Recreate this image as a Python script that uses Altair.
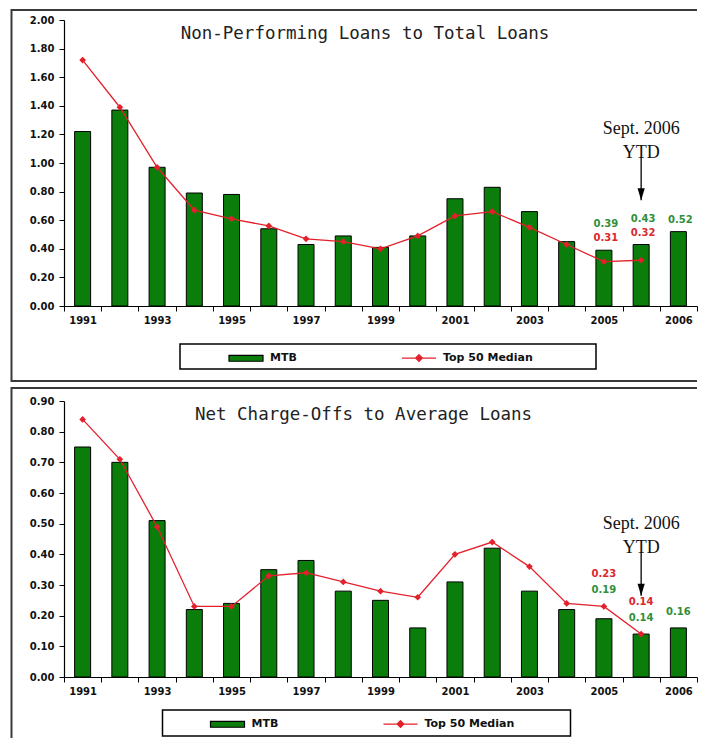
import json
import altair as alt
import pandas as pd

# ---------------- data ----------------
periods = [str(y) for y in range(1991, 2006)] + ["Sept. 2006 YTD", "2006"]
shown_labels = ["1991", "1993", "1995", "1997", "1999", "2001", "2003", "2005", "2006"]
series_names = ["MTB", "Top 50 Median"]

npl_title = "Non-Performing Loans to Total Loans"
npl_mtb = [1.22, 1.37, 0.97, 0.79, 0.78, 0.54, 0.43, 0.49, 0.41, 0.49, 0.75, 0.83, 0.66, 0.45, 0.39, 0.43, 0.52]
npl_median = [1.72, 1.39, 0.97, 0.67, 0.61, 0.56, 0.47, 0.45, 0.40, 0.49, 0.63, 0.66, 0.55, 0.43, 0.31, 0.32, None]
npl_ticks = [0.0, 0.2, 0.4, 0.6, 0.8, 1.0, 1.2, 1.4, 1.6, 1.8, 2.0]
npl_callouts = [("2005", "MTB", 2), ("2005", "Top 50 Median", 1),
                ("Sept. 2006 YTD", "MTB", 2), ("Sept. 2006 YTD", "Top 50 Median", 1),
                ("2006", "MTB", 1)]
npl_arrow = [1.04, 0.74]

nco_title = "Net Charge-Offs to Average Loans"
nco_mtb = [0.75, 0.70, 0.51, 0.22, 0.24, 0.35, 0.38, 0.28, 0.25, 0.16, 0.31, 0.42, 0.28, 0.22, 0.19, 0.14, 0.16]
nco_median = [0.84, 0.71, 0.49, 0.23, 0.23, 0.33, 0.34, 0.31, 0.28, 0.26, 0.40, 0.44, 0.36, 0.24, 0.23, 0.14, None]
nco_ticks = [0.0, 0.1, 0.2, 0.3, 0.4, 0.5, 0.6, 0.7, 0.8, 0.9]
nco_callouts = [("2005", "Top 50 Median", 2), ("2005", "MTB", 1),
                ("Sept. 2006 YTD", "Top 50 Median", 2), ("Sept. 2006 YTD", "MTB", 1),
                ("2006", "MTB", 1)]
nco_arrow = [0.406, 0.265]

note_text = "Sept. 2006\nYTD"

# ---------------- styles ----------------
GREEN = "#0b7d0b"
RED = "#e3202b"
TXT_GREEN = "#2f8f3a"
TXT_RED = "#d9282e"
FRAME = "#3a3a3a"
FONT = "DejaVu Sans"
TITLE_FONT = "DejaVu Sans Mono"
BAR_SHAPE = "M-1,-0.17H1V0.17H-1Z"
LINE_SHAPE = "M-1,0H1M0,-0.2L0.2,0L0,0.2L-0.2,0Z"
ARROW_HEAD = "M-0.6,-1L0.6,-1L0,1Z"

label_expr = "indexof(" + json.dumps(shown_labels) + ", datum.value) >= 0 ? datum.value : ''"
dummy = pd.DataFrame({"k": [0]})


def frame_rule(x, x2, y, y2):
    return alt.Chart(dummy).mark_rule(color=FRAME, strokeWidth=2).encode(
        x=alt.value(x), x2=alt.value(x2), y=alt.value(y), y2=alt.value(y2))


def panel(mtb, median, ticks, ymax, title, callouts, arrow, g):
    W, H = g["W"], g["H"]
    x_def = alt.X("period:N", sort=periods,
                  scale=alt.Scale(domain=periods, paddingInner=0, paddingOuter=0),
                  axis=alt.Axis(title=None, labelExpr=label_expr, labelAngle=0, tickBand="extent",
                                tickSize=5, tickColor="black", domainColor="black", domainWidth=1.2,
                                labelFont=FONT, labelFontSize=10, labelFontWeight="bold",
                                labelColor="#111", labelPadding=4, grid=False, labelOverlap=False))
    y_scale = alt.Scale(domain=[0, ymax], nice=False)
    y_axis = alt.Axis(title=None, values=ticks, format=".2f", tickSize=5,
                      tickColor="black", domainColor="black", domainWidth=1.2,
                      labelFont=FONT, labelFontSize=10, labelFontWeight="bold",
                      labelColor="#111", labelPadding=5, grid=False, labelOverlap=False)
    y_def = alt.Y("value:Q", scale=y_scale, axis=y_axis)
    y_tip = alt.Y("value2:Q", scale=y_scale, axis=y_axis)

    bars_df = pd.DataFrame({"period": periods, "value": mtb})
    line_df = pd.DataFrame({"period": periods, "value": median}).dropna()

    vals = {"MTB": dict(zip(periods, mtb)), "Top 50 Median": dict(zip(periods, median))}
    rows = []
    for per, ser, rank in callouts:
        v = vals[ser][per]
        anchor = max(x for x in (vals["MTB"][per], vals["Top 50 Median"][per]) if x is not None)
        rows.append({"period": per, "series": ser, "rank": rank, "text": f"{v:.2f}", "value": anchor})
    call_df = pd.DataFrame(rows)

    frame = [
        frame_rule(-52.5, W, g["top"], g["top"]),
        frame_rule(-52.5, -52.5, g["top"] - 1, g["bottom"]),
    ]
    if g.get("close") is not None:
        frame.append(frame_rule(-52.5, W, g["close"], g["close"]))

    legend_box = alt.Chart(dummy).mark_rect(fill="white", stroke="black", strokeWidth=1.5).encode(
        x=alt.value(g["lb"][0]), x2=alt.value(g["lb"][1]),
        y=alt.value(g["lb"][2]), y2=alt.value(g["lb"][3]))

    title_mark = alt.Chart(dummy).mark_text(font=TITLE_FONT, fontSize=17.5, color="#222", align="center",
                                            baseline="alphabetic").encode(
        x=alt.value(g["tx"]), y=alt.value(g["ty"]), text=alt.value(title))

    bars = alt.Chart(bars_df).mark_bar(size=16, color=GREEN, stroke="black", strokeWidth=1).encode(
        x=x_def, y=y_def)
    line = alt.Chart(line_df).mark_line(color=RED, strokeWidth=1.3).encode(x=x_def, y=y_def)
    pts = alt.Chart(line_df).mark_point(shape="diamond", filled=True, color=RED, size=45, opacity=1).encode(
        x=x_def, y=y_def)

    txt_color = alt.condition("datum.series == 'MTB'", alt.value(TXT_GREEN), alt.value(TXT_RED))
    call_layers = []
    for rank, dy in ((1, g["dy"][0]), (2, g["dy"][1])):
        call_layers.append(
            alt.Chart(call_df).transform_filter(f"datum.rank == {rank}").mark_text(
                font=FONT, fontSize=10, fontWeight="bold", baseline="middle", align="center",
                dy=dy, dx=g["dx"]).encode(x=x_def, y=y_def, text="text:N", color=txt_color))

    arrow_df = pd.DataFrame({"period": ["Sept. 2006 YTD"], "value": [arrow[0]], "value2": [arrow[1]],
                             "note": [note_text]})
    arrow_line = alt.Chart(arrow_df).mark_rule(color="black", strokeWidth=1.3).encode(
        x=x_def, y=y_def, y2="value2:Q")
    arrow_head = alt.Chart(arrow_df).mark_point(shape=ARROW_HEAD, filled=True, color="black",
                                                size=144, opacity=1, yOffset=-6).encode(
        x=x_def, y=y_tip)
    note = alt.Chart(arrow_df).mark_text(font="Liberation Serif", fontSize=18, lineBreak="\n",
                                         lineHeight=24, baseline="bottom", align="center", dy=-19,
                                         color="#111").encode(x=x_def, y=y_def, text="note:N")

    leg = alt.Legend(title=None, orient="none", legendX=g["lx"], legendY=g["ly"], direction="horizontal",
                     labelFont=FONT, labelFontSize=11, labelFontWeight="bold", labelColor="#111",
                     labelOffset=6, columnPadding=102, symbolSize=1156, symbolStrokeWidth=1.2,
                     padding=0)
    legend_layer = alt.Chart(pd.DataFrame({"series": series_names})).transform_filter("false").mark_point(
        filled=True, size=1156, opacity=1).encode(
        fill=alt.Fill("series:N", scale=alt.Scale(domain=series_names, range=[GREEN, RED]), legend=leg),
        stroke=alt.Stroke("series:N", scale=alt.Scale(domain=series_names, range=["#000000", RED]), legend=leg),
        shape=alt.Shape("series:N", scale=alt.Scale(domain=series_names, range=[BAR_SHAPE, LINE_SHAPE]), legend=leg),
    )

    layers = frame + [legend_box, title_mark, bars, line, pts] + call_layers + [arrow_line, arrow_head, note, legend_layer]
    return alt.layer(*layers).properties(width=W, height=H)


top = panel(npl_mtb, npl_median, npl_ticks, 2.0, npl_title, npl_callouts, npl_arrow,
            dict(W=633, H=286, top=-10, bottom=362, close=361, lb=(116, 532, 324, 349),
                 tx=301, ty=19, dy=(-12, -26), dx=2, lx=164, ly=320))
bottom = panel(nco_mtb, nco_median, nco_ticks, 0.9, nco_title, nco_callouts, nco_arrow,
               dict(W=633, H=276, top=-13, bottom=337, close=None, lb=(98.5, 506.5, 309, 335),
                    tx=299.5, ty=19, dy=(-16, -32), dx=0, lx=145.5, ly=305))

chart = alt.vconcat(top, bottom, spacing=3).resolve_scale(
    x="independent", y="independent", fill="independent", stroke="independent", shape="independent"
).resolve_legend(fill="independent", stroke="independent", shape="independent").properties(
    padding={"left": 2, "top": 0, "right": 0, "bottom": 0}, background="white"
).configure_view(stroke=None)

chart.save("out.html", embed_options={"renderer": "svg", "actions": False})
